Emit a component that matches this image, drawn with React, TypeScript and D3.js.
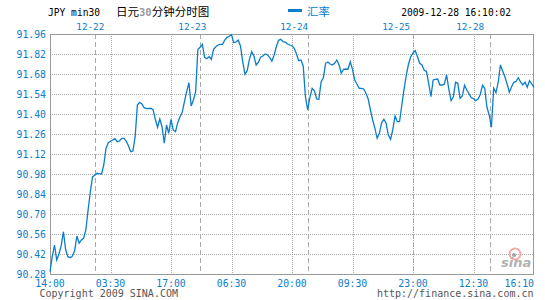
import React from "react";
import * as d3 from "d3";

const rates: number[] = [
  90.296, 90.401, 90.483, 90.378, 90.42, 90.478, 90.576, 90.448, 90.401, 90.394,
  90.406, 90.443, 90.546, 90.495, 90.518, 90.53, 90.588, 90.728, 90.856, 90.961,
  90.971, 90.985, 90.982, 90.98, 91.043, 91.16, 91.199, 91.209, 91.218, 91.227,
  91.206, 91.211, 91.23, 91.23, 91.211, 91.178, 91.136, 91.141, 91.241, 91.463,
  91.482, 91.47, 91.444, 91.437, 91.437, 91.44, 91.43, 91.363, 91.307, 91.365,
  91.311, 91.195, 91.323, 91.265, 91.363, 91.288, 91.276, 91.339, 91.381, 91.412,
  91.486, 91.556, 91.619, 91.456, 91.498, 91.556, 91.853, 91.867, 91.888, 91.797,
  91.787, 91.801, 91.783, 91.853, 91.871, 91.883, 91.888, 91.888, 91.918, 91.937,
  91.944, 91.955, 91.899, 91.904, 91.918, 91.876, 91.766, 91.678, 91.703, 91.783,
  91.836, 91.806, 91.743, 91.762, 91.797, 91.806, 91.82, 91.815, 91.797, 91.769,
  91.811, 91.871, 91.916, 91.923, 91.906, 91.904, 91.89, 91.883, 91.878, 91.86,
  91.82, 91.773, 91.778, 91.736, 91.521, 91.428, 91.517, 91.58, 91.563, 91.505,
  91.503, 91.626, 91.654, 91.755, 91.764, 91.75, 91.743, 91.755, 91.778, 91.743,
  91.685, 91.713, 91.715, 91.713, 91.766, 91.713, 91.638, 91.608, 91.58, 91.58,
  91.575, 91.545, 91.505, 91.428, 91.358, 91.3, 91.23, 91.265, 91.339, 91.363,
  91.335, 91.253, 91.223, 91.293, 91.386, 91.346, 91.346, 91.463, 91.573, 91.671,
  91.75, 91.801, 91.827, 91.843, 91.801, 91.755, 91.743, 91.706, 91.699, 91.615,
  91.521, 91.638, 91.643, 91.645, 91.603, 91.603, 91.61, 91.673, 91.573, 91.493,
  91.521, 91.622, 91.615, 91.51, 91.526, 91.601, 91.568, 91.542, 91.514, 91.507,
  91.493, 91.505, 91.535, 91.601, 91.58, 91.447, 91.393, 91.307, 91.58, 91.549,
  91.619, 91.743, 91.701, 91.661, 91.61, 91.552, 91.591, 91.622, 91.629, 91.654,
  91.624, 91.603, 91.622, 91.587, 91.633, 91.61, 91.587,
];

const yTickValues = [
  90.28, 90.42, 90.56, 90.7, 90.84, 90.98, 91.12, 91.26, 91.4, 91.54, 91.68, 91.82, 91.96,
];
const timeLabels = ["14:00", "03:30", "17:00", "06:30", "20:00", "09:30", "23:00", "12:30", "16:10"];
const timeTickIdx = [0, 27, 54, 81, 108, 135, 162, 189, 216];
const dayLabels = ["12-22", "12-23", "12-24", "12-25", "12-28"];
const dayLineIdx = [20, 67, 115, 162, 196.5];
const dayLabelIdx = [18, 63.5, 109, 154.5, 187.5];

const W = 545;
const H = 300;
const L = 50;
const R = 534;
const T = 34;
const B = 274;
const BLUE = "#0a7dcc";
const GRID = "#aaaaaa";
const MONO = "'DejaVu Sans Mono', 'Liberation Mono', monospace";
const CJK = "'Noto Sans CJK SC', sans-serif";

export default function App() {
  const x = d3.scaleLinear().domain([0, rates.length - 1]).range([L, R]);
  const y = d3.scaleLinear().domain([90.28, 91.96]).range([B, T]);
  const line = d3
    .line<number>()
    .x((_, i) => x(i))
    .y((d) => y(d));
  const px = (v: number) => Math.round(v) + 0.5;

  return (
    <svg
      width={W}
      height={H}
      style={{ position: "absolute", left: 0, top: 0, background: "#fff" }}
    >
      {/* header */}
      <text x={48} y={15.5} fontFamily={MONO} fontSize={9.6} fill="#000">
        JPY min30
      </text>
      <text x={116} y={16} fontFamily={CJK} fontSize={11.5} fill="#000">
        日元
        <tspan fontFamily={MONO} fontSize={10.5} fill="#999" fontWeight="bold">
          30
        </tspan>
        分钟分时图
      </text>
      <line x1={288} x2={302} y1={10.5} y2={10.5} stroke={BLUE} strokeWidth={3} />
      <text x={307} y={16} fontFamily={CJK} fontSize={11.5} fill={BLUE}>
        汇率
      </text>
      <text x={511} y={15.5} fontFamily={MONO} fontSize={9.6} fill="#000" textAnchor="end">
        2009-12-28 16:10:02
      </text>

      {/* horizontal grid */}
      {yTickValues.map((v, i) => (
        <g key={"h" + i}>
          {i > 0 && i < yTickValues.length - 1 && (
            <line
              x1={L}
              x2={R}
              y1={px(y(v))}
              y2={px(y(v))}
              stroke={GRID}
              strokeDasharray="1,1"
            />
          )}
          <text
            x={46}
            y={y(v) + 3.5}
            fontFamily={MONO}
            fontSize={9.8}
            fill={BLUE}
            textAnchor="end"
          >
            {v.toFixed(2)}
          </text>
        </g>
      ))}

      {/* vertical dotted grid */}
      {timeTickIdx.map((t, i) => (
        <g key={"v" + i}>
          {i > 0 && i < timeTickIdx.length - 1 && (
            <line
              x1={px(x(t))}
              x2={px(x(t))}
              y1={T}
              y2={B}
              stroke={GRID}
              strokeDasharray="1,1"
            />
          )}
          <text
            x={i === timeTickIdx.length - 1 ? R : x(t)}
            y={287}
            fontFamily={MONO}
            fontSize={9.8}
            fill={BLUE}
            textAnchor={i === timeTickIdx.length - 1 ? "end" : "middle"}
          >
            {timeLabels[i]}
          </text>
        </g>
      ))}

      {/* day separators */}
      {dayLineIdx.map((t, i) => (
        <g key={"d" + i}>
          <line
            x1={px(x(t))}
            x2={px(x(t))}
            y1={T}
            y2={B}
            stroke={GRID}
            strokeDasharray="5,3"
          />
          <text
            x={x(dayLabelIdx[i])}
            y={29.5}
            fontFamily={MONO}
            fontSize={9.3}
            fill={BLUE}
            textAnchor="middle"
          >
            {dayLabels[i]}
          </text>
        </g>
      ))}

      {/* border */}
      <rect
        x={L + 0.5}
        y={T + 0.5}
        width={R - L - 1}
        height={B - T}
        fill="none"
        stroke="#999"
        strokeWidth={1}
      />

      {/* sina logo */}
      <g opacity={0.9}>
        <circle cx={515} cy={254} r={5.5} fill="none" stroke="#f4a0a0" strokeWidth={2} />
        <circle cx={514} cy={255} r={2} fill="#999" />
        <text
          x={501}
          y={267}
          fontFamily="'DejaVu Sans', sans-serif"
          fontStyle="italic"
          fontWeight="bold"
          fontSize={13}
          fill="#aaa"
        >
          sina
        </text>
      </g>

      {/* rate line */}
      <path d={line(rates) || ""} fill="none" stroke={BLUE} strokeWidth={1.3} />

      {/* footer */}
      <text x={39.5} y={297} fontFamily={MONO} fontSize={10} fill="#555">
        Copyright 2009 SINA.COM
      </text>
      <text x={533.5} y={297} fontFamily={MONO} fontSize={10} fill="#555" textAnchor="end">
        http://finance.sina.com.cn
      </text>
    </svg>
  );
}
